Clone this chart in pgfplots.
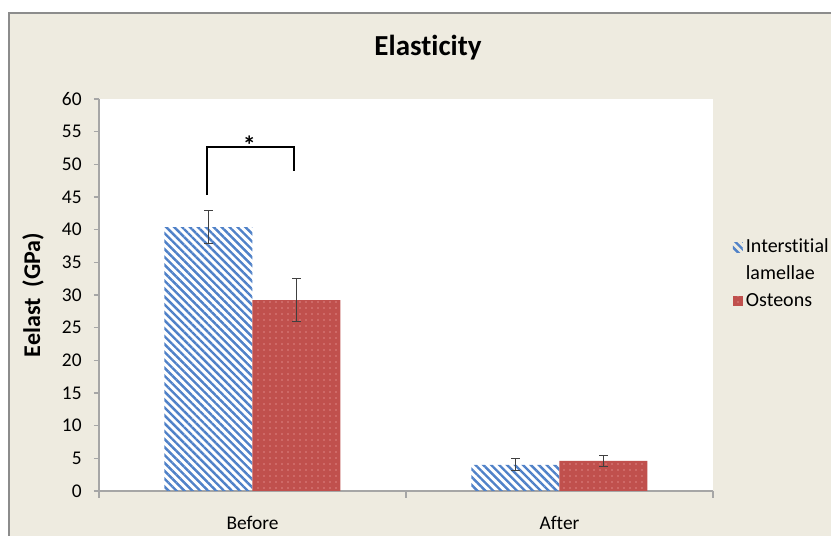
\documentclass[border=0pt]{standalone}
\usepackage{pgfplots}
\pgfplotsset{compat=1.18}
\usepackage{fontspec}
\setmainfont{Carlito}[Ligatures=NoCommon]
\usetikzlibrary{patterns.meta}
\definecolor{bgc}{HTML}{EEEBE0}
\definecolor{framec}{HTML}{8C8C8C}
\definecolor{bluec}{HTML}{4F81C8}
\definecolor{redc}{HTML}{C0504D}
\definecolor{axc}{HTML}{A6A6A6}
\begin{document}
\begin{tikzpicture}
\useasboundingbox (0,0) rectangle (415.5pt,268pt);
\fill[white] (0,0) rectangle (415.5pt,268pt);
\filldraw[fill=bgc, draw=framec, line width=0.8pt] (4.5pt,-5pt) rectangle (425pt,261.5pt);
\node[font=\bfseries\fontsize{14.5}{17}\selectfont] at (214pt,244pt) {Elasticity};
\begin{axis}[
  at={(49.5pt,22.5pt)}, anchor=south west,
  scale only axis, width=307pt, height=196pt,
  /pgf/number format/assume math mode=true,
  ybar=0pt, bar width=44pt,
  xmin=-0.5, xmax=1.5, ymin=0, ymax=60,
  xtick={0,1}, xticklabels={Before,After},
  minor xtick={-0.5,0.5,1.5},
  ytick={0,5,...,60},
  tick align=outside,
  major tick length=2.5pt, minor tick length=3.5pt,
  x tick style={draw=none}, minor x tick style={draw=axc, line width=0.8pt},
  y tick style={draw=axc, line width=0.6pt},
  axis x line*=bottom, axis y line*=left,
  axis line style={draw=axc, line width=0.8pt, -},
  axis background/.style={fill=white},
  tick label style={font=\fontsize{9.7}{11}\selectfont},
  yticklabel style={inner sep=0pt, xshift=-6pt},
  xticklabel style={inner sep=0pt, yshift=-10pt},
  ylabel={Eelast\ \ (GPa)},
  ylabel style={font=\bfseries\fontsize{12}{14}\selectfont, at={(axis description cs:-0.1075,0.5)}, anchor=center},
  legend style={at={(rel axis cs:1.022,0.665)}, anchor=north west, draw=none, fill=none,
     font=\fontsize{10}{12}\selectfont, row sep=1pt,
     nodes={inner sep=1.5pt, text height=7.5pt, text depth=2pt}},
  legend cell align=left,
  legend image code/.code={\path[#1] (0pt,-2.5pt) rectangle (5pt,2.5pt);},
  ebars/.style={error bars/y dir=both, error bars/y explicit,
    error bars/error bar style={draw=black!75, line width=0.5pt},
    error bars/error mark options={rotate=90, mark size=2.2pt, draw=black!75, line width=0.5pt}},
]
\addplot[ebars, draw=none, pattern={Lines[angle=-45, distance=2.8pt, line width=1.2pt]}, pattern color=bluec]
  coordinates {(0,40.4) +- (0,2.5) (1,4.0) +- (0,0.9)};
\addlegendentry{Interstitial}
\addlegendimage{empty legend}
\addlegendentry{lamellae}
\addplot[ebars, draw=none, fill=redc, postaction={pattern={Dots[distance=3pt, radius=0.3pt]}, pattern color=red!25!white}]
  coordinates {(0,29.2) +- (0,3.3) (1,4.6) +- (0,0.9)};
\addlegendentry{Osteons}
\draw[black, line width=0.8pt] (axis cs:-0.148,45.3) -- (axis cs:-0.148,52.65) -- (axis cs:0.135,52.65) -- (axis cs:0.135,49.0);
\node[anchor=center, inner sep=0pt, font=\bfseries\fontsize{13}{15}\selectfont] at (axis cs:-0.01,53.0) {*};
\end{axis}
\end{tikzpicture}
\end{document}
